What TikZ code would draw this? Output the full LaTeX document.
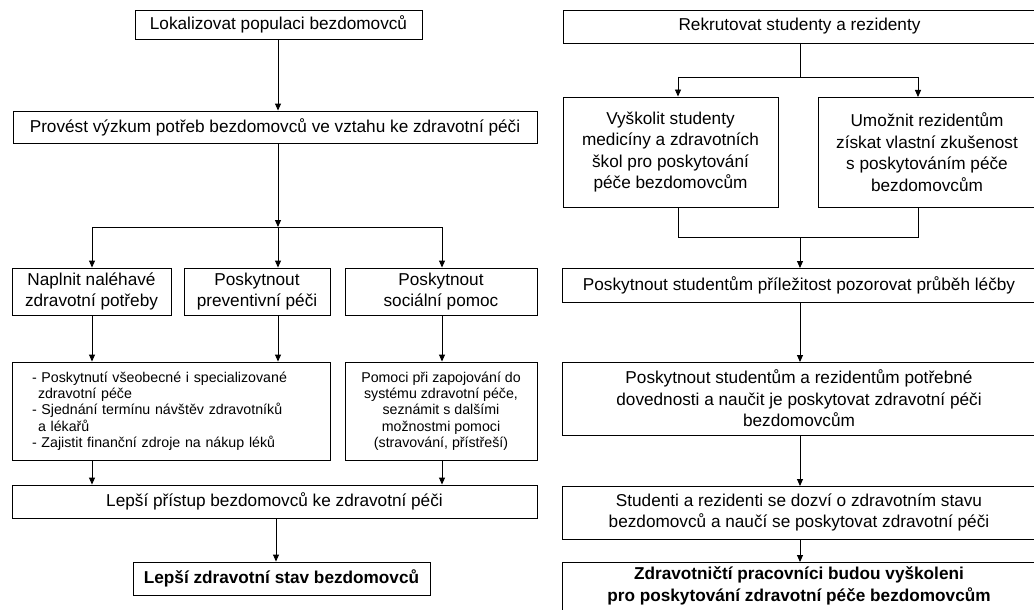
\documentclass[tikz,border=0pt]{standalone}
\usepackage{fontspec}
\setmainfont{Liberation Sans}
\usetikzlibrary{arrows.meta}
\begin{document}
\begin{tikzpicture}[x=1pt,y=-1pt,
  box/.style={draw,line width=0.9pt,inner sep=0pt,align=center,font=\fontsize{17.2}{21.6}\selectfont},
  openbox/.style={inner sep=0pt,outer sep=0pt,align=center,font=\fontsize{17.2}{21.6}\selectfont},
  smallbox/.style={draw,line width=0.9pt,inner sep=0pt,font=\fontsize{14.2}{16.3}\selectfont},
  ln/.style={line width=0.9pt},
  arr/.style={line width=0.9pt,-{Triangle[length=7pt,width=6pt]}}]
\useasboundingbox (0,0) rectangle (1034,610);
\fill[white] (0,0) rectangle (1034,610);
\clip (0,0) rectangle (1034,610);
% left column
\node[box,minimum width=287pt,minimum height=29pt] (A) at (278.5,24.5) {Lokalizovat populaci bezdomovců};
\node[box,minimum width=524pt,minimum height=32pt] (B) at (275,127) {Provést výzkum potřeb bezdomovců ve vztahu ke zdravotní péči};
\node[box,minimum width=159pt,minimum height=47pt] (C1) at (91.5,291.5) {Naplnit naléhavé\\zdravotní potřeby};
\node[box,minimum width=146pt,minimum height=47pt] (C2) at (257,291.5) {Poskytnout\\preventivní péči};
\node[box,minimum width=192pt,minimum height=47pt] (C3) at (441,291.5) {Poskytnout\\sociální pomoc};
\node[smallbox,minimum width=318pt,minimum height=98pt,align=left,text width=278pt] (D1) at (171,411) {%
- Poskytnutí všeobecné i specializované\\
\hspace*{6pt}zdravotní péče\\
- Sjednání termínu návštěv zdravotníků\\
\hspace*{6pt}a lékařů\\
- Zajistit finanční zdroje na nákup léků};
\node[smallbox,minimum width=192pt,minimum height=98pt,align=center] (D2) at (441,411) {Pomoci při zapojování do\\systému zdravotní péče,\\seznámit s dalšími\\možnostmi pomoci\\(stravování, přístřeší)};
\node[box,minimum width=525pt,minimum height=33pt] (E) at (274.5,501.5) {Lepší přístup bezdomovců ke zdravotní péči};
\node[box,minimum width=297pt,minimum height=33pt,font=\fontsize{17.2}{21.6}\selectfont\bfseries] (F) at (281.5,578.5) {Lepší zdravotní stav bezdomovců};
% junction coordinates left
\coordinate (j1) at (278,227);
\coordinate (j1l) at (92,227);
\coordinate (j1r) at (442,227);
\draw[arr] (A.south -| j1) -- (B.north -| j1);
\draw[arr] (B.south -| j1) -- (j1);
\draw[ln] (j1l) -- (j1r);
\draw[arr] (j1l) -- (C1.north -| j1l);
\draw[arr] (j1) -- (C2.north -| j1);
\draw[arr] (j1r) -- (C3.north -| j1r);
\draw[arr] (C1.south -| j1l) -- (D1.north -| j1l);
\draw[arr] (C2.south -| j1) -- (D1.north -| j1);
\draw[arr] (C3.south -| j1r) -- (D2.north -| j1r);
\draw[arr] (D1.south -| j1l) -- (E.north -| j1l);
\draw[arr] (D2.south -| j1r) -- (E.north -| j1r);
\coordinate (eF) at (276,0);
\draw[arr] (E.south -| eF) -- (F.north -| eF);
% right column (boxes run past the right edge of the picture)
\node[openbox,minimum width=473pt,minimum height=33pt] (G) at (799.5,26.5) {Rekrutovat studenty a rezidenty};
\node[box,minimum width=215pt,minimum height=110pt] (H1) at (670.5,152) {Vyškolit studenty\\medicíny a zdravotních\\škol pro poskytování\\péče bezdomovcům};
\node[openbox,minimum width=218pt,minimum height=110pt] (H2) at (927,152) {Umožnit rezidentům\\získat vlastní zkušenost\\s poskytováním péče\\bezdomovcům};
\node[openbox,minimum width=474pt,minimum height=34pt] (I) at (799,285) {Poskytnout studentům příležitost pozorovat průběh léčby};
\node[openbox,minimum width=474pt,minimum height=73pt] (J) at (799,398.5) {Poskytnout studentům a rezidentům potřebné\\dovednosti a naučit je poskytovat zdravotní péči\\bezdomovcům};
\node[openbox,minimum width=474pt,minimum height=53pt] (K) at (799,512.5) {Studenti a rezidenti se dozví o zdravotním stavu\\bezdomovců a naučí se poskytovat zdravotní péči};
\node[openbox,minimum width=474pt,minimum height=48pt,font=\fontsize{17.2}{21.6}\selectfont\bfseries] (L) at (799,586) {Zdravotničtí pracovníci budou vyškoleni\\pro poskytování zdravotní péče bezdomovcům};
\foreach \n in {G,H2,I,J,K}
  \draw[ln] ([xshift=15pt]\n.north east) -- (\n.north west) -- (\n.south west) -- ([xshift=15pt]\n.south east);
\draw[ln] ([xshift=15pt]L.north east) -- (L.north west) -- ([yshift=-20pt]L.south west);
\coordinate (j2) at (800,77);
\coordinate (j2l) at (678,77);
\coordinate (j2r) at (918,77);
\coordinate (j3) at (800,237);
\coordinate (j3l) at (678,237);
\coordinate (j3r) at (918,237);
\draw[ln] (G.south -| j2) -- (j2);
\draw[ln] (j2l) -- (j2r);
\draw[arr] (j2l) -- (H1.north -| j2l);
\draw[arr] (j2r) -- (H2.north -| j2r);
\draw[ln] (H1.south -| j3l) -- (j3l) -- (j3r) -- (H2.south -| j3r);
\draw[arr] (j3) -- (I.north -| j3);
\draw[arr] (I.south -| j3) -- (J.north -| j3);
\draw[arr] (J.south -| j3) -- (K.north -| j3);
\draw[arr] (K.south -| j3) -- (L.north -| j3);
\end{tikzpicture}
\end{document}
